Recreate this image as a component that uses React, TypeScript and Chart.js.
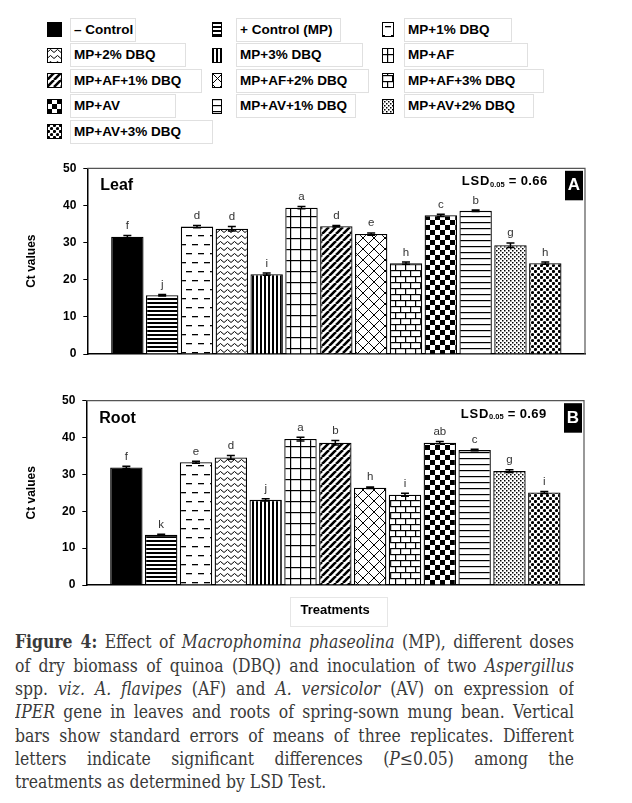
import React, { useEffect, useRef } from 'react';
import { Chart, registerables } from 'chart.js';

Chart.register(...registerables);

const SANS = '"Liberation Sans", Arial, sans-serif';
const SERIF = '"DejaVu Serif", "Liberation Serif", serif';

// ---------------- data ----------------
const treatments = [
  '– Control', '+ Control (MP)', 'MP+1% DBQ', 'MP+2% DBQ', 'MP+3% DBQ', 'MP+AF',
  'MP+AF+1% DBQ', 'MP+AF+2% DBQ', 'MP+AF+3% DBQ', 'MP+AV', 'MP+AV+1% DBQ',
  'MP+AV+2% DBQ', 'MP+AV+3% DBQ',
];
const fillKinds = [
  'solid', 'hthick', 'dash', 'zigzag', 'vthick', 'grid', 'diag', 'lattice',
  'brick', 'checker', 'hthin', 'finedots', 'bigdots',
];
const yMin = 0;
const yMax = 50;
const yStep = 10;

const leafCt = [31.6, 15.85, 34.3, 33.75, 21.5, 39.4, 34.4, 32.3, 24.45, 37.35, 38.55, 29.3, 24.45];
const leafSE = [0.3, 0.2, 0.3, 0.6, 0.3, 0.3, 0.2, 0.3, 0.3, 0.3, 0.2, 0.6, 0.3];
const leafLetters = ['f', 'j', 'd', 'd', 'i', 'a', 'd', 'e', 'h', 'c', 'b', 'g', 'h'];
const leafLSD = '0.66';

const rootCt = [31.9, 13.6, 33.3, 34.6, 23.1, 39.6, 38.6, 26.4, 24.5, 38.6, 36.6, 30.9, 25.1];
const rootSE = [0.3, 0.2, 0.3, 0.5, 0.3, 0.5, 0.6, 0.2, 0.4, 0.3, 0.2, 0.4, 0.3];
const rootLetters = ['f', 'k', 'e', 'd', 'j', 'a', 'b', 'h', 'i', 'ab', 'c', 'g', 'i'];
const rootLSD = '0.69';

// ---------------- patterns ----------------
const tileDims: Record<string, [number, number]> = {
  hthick: [4, 4], dash: [12, 18], zigzag: [7, 6], vthick: [4, 4], grid: [10, 11],
  diag: [7, 7], lattice: [11, 11], brick: [10, 12], checker: [10, 10], hthin: [6, 6],
  finedots: [4, 4], bigdots: [6, 6],
};

function makeFill(g: CanvasRenderingContext2D, kind: string): string | CanvasPattern {
  if (kind === 'solid') return '#000';
  const [w, h] = tileDims[kind];
  const c = document.createElement('canvas');
  c.width = w;
  c.height = h;
  const t = c.getContext('2d')!;
  t.fillStyle = '#fff';
  t.fillRect(0, 0, w, h);
  t.fillStyle = '#000';
  t.strokeStyle = '#000';
  switch (kind) {
    case 'hthick':
      t.fillRect(0, 0, w, 2);
      break;
    case 'dash':
      t.fillRect(0, 4, 6, 1.3);
      t.fillRect(6, 13, 6, 1.3);
      break;
    case 'zigzag':
      t.lineWidth = 1;
      t.beginPath();
      t.moveTo(-3.5, 1.5);
      t.lineTo(0, 4.5);
      t.lineTo(3.5, 1.5);
      t.lineTo(7, 4.5);
      t.lineTo(10.5, 1.5);
      t.stroke();
      break;
    case 'vthick':
      t.fillRect(0, 0, 2, h);
      break;
    case 'grid':
      t.fillRect(0, 0, w, 1.2);
      t.fillRect(0, 0, 1.2, h);
      break;
    case 'diag':
      t.lineWidth = 2.6;
      t.beginPath();
      for (const o of [-7, 0, 7]) {
        t.moveTo(o, 7);
        t.lineTo(o + 7, 0);
      }
      t.stroke();
      break;
    case 'lattice':
      t.lineWidth = 1;
      t.beginPath();
      for (const o of [-11, 0, 11]) {
        t.moveTo(o, 0);
        t.lineTo(o + 11, 11);
        t.moveTo(o, 11);
        t.lineTo(o + 11, 0);
      }
      t.stroke();
      break;
    case 'brick':
      t.fillRect(0, 0, w, 1.2);
      t.fillRect(0, 6, w, 1.2);
      t.fillRect(0, 0, 1.2, 6);
      t.fillRect(5, 6, 1.2, 6);
      break;
    case 'checker':
      t.fillRect(0, 0, 5, 5);
      t.fillRect(5, 5, 5, 5);
      break;
    case 'hthin':
      t.fillRect(0, 0, w, 1.2);
      break;
    case 'finedots':
      t.fillRect(0, 0, 1.5, 1.5);
      t.fillRect(2, 2, 1.5, 1.5);
      break;
    case 'bigdots':
      t.beginPath();
      t.arc(1.5, 1.5, 1.6, 0, Math.PI * 2);
      t.arc(4.5, 4.5, 1.6, 0, Math.PI * 2);
      t.fill();
      break;
  }
  return g.createPattern(c, 'repeat')!;
}

// ---------------- chart panel ----------------
type PanelProps = {
  top: number;
  height: number;
  values: number[];
  errors: number[];
  letters: string[];
  label: string;
  tag: string;
  lsd: string;
  yWidth: number;
  padRight: number;
  padTop: number;
  xHeight: number;
  xTitle?: string;
};

function Panel(p: PanelProps) {
  const ref = useRef<HTMLCanvasElement>(null);
  useEffect(() => {
    const canvas = ref.current!;
    const g = canvas.getContext('2d')!;
    const fills = fillKinds.map((k) => makeFill(g, k));
    const decor = {
      id: 'decor',
      afterDatasetsDraw(chart: any) {
        const { ctx } = chart;
        const xs = chart.scales.x;
        const ys = chart.scales.y;
        ctx.save();
        ctx.strokeStyle = '#000';
        ctx.lineWidth = 1.5;
        ctx.fillStyle = '#333';
        ctx.font = `11.5px ${SANS}`;
        ctx.textAlign = 'center';
        ctx.textBaseline = 'alphabetic';
        p.values.forEach((v, i) => {
          const px = xs.getPixelForValue(i + 1);
          const yt = ys.getPixelForValue(v + p.errors[i]);
          const yb = ys.getPixelForValue(v - p.errors[i]);
          ctx.beginPath();
          ctx.moveTo(px, yt);
          ctx.lineTo(px, yb);
          ctx.moveTo(px - 4, yt);
          ctx.lineTo(px + 4, yt);
          ctx.moveTo(px - 4, yb);
          ctx.lineTo(px + 4, yb);
          ctx.stroke();
          ctx.fillText(p.letters[i], px, yt - 6.5);
        });
        ctx.restore();
      },
      afterDraw(chart: any) {
        const { ctx } = chart;
        const { left, right, top, bottom } = chart.chartArea;
        ctx.save();
        ctx.strokeStyle = '#555';
        ctx.lineWidth = 1.2;
        ctx.beginPath();
        ctx.moveTo(left, top);
        ctx.lineTo(right, top);
        ctx.lineTo(right, bottom);
        ctx.stroke();

        ctx.fillStyle = '#000';
        ctx.font = `bold 16px ${SANS}`;
        ctx.textAlign = 'left';
        ctx.textBaseline = 'middle';
        ctx.fillText(p.label, left + 13, top + 17.5);

        let lx = right - 123.3;
        const ly = top + 13.3;
        ctx.font = `bold 13px ${SANS}`;
        (ctx as any).letterSpacing = '0.8px';
        ctx.fillText('LSD', lx, ly);
        lx += ctx.measureText('LSD').width;
        ctx.font = `bold 7.5px ${SANS}`;
        (ctx as any).letterSpacing = '0px';
        ctx.fillText('0.05', lx, ly + 3);
        lx += ctx.measureText('0.05').width + 4;
        ctx.font = `bold 13px ${SANS}`;
        (ctx as any).letterSpacing = '0.4px';
        ctx.fillText('= ' + p.lsd, lx, ly);
        (ctx as any).letterSpacing = '0px';

        ctx.fillStyle = '#000';
        ctx.fillRect(right - 20, top + 2.5, 18, 29.5);
        ctx.fillStyle = '#fff';
        ctx.font = `bold 17px ${SANS}`;
        ctx.textAlign = 'center';
        ctx.fillText(p.tag, right - 11, top + 17.5);
        ctx.restore();
      },
    };

    const chart = new Chart(canvas, {
      type: 'bar',
      data: {
        datasets: [
          {
            data: p.values.map((v, i) => ({ x: i + 1, y: v })),
            backgroundColor: fills as any,
            borderColor: '#000',
            borderWidth: 1.3,
            barPercentage: 0.93,
            categoryPercentage: 1,
          },
        ],
      },
      options: {
        responsive: false,
        animation: false,
        devicePixelRatio: 1,
        layout: { padding: { top: p.padTop, right: p.padRight, left: 0, bottom: 0 } },
        plugins: { legend: { display: false }, tooltip: { enabled: false } },
        scales: {
          x: {
            type: 'linear',
            min: -0.15,
            max: 14.14,
            offset: false,
            ticks: { display: false },
            grid: { display: false },
            border: { display: true, color: '#000', width: 1.5 },
            title: {
              display: !!p.xTitle,
              text: p.xTitle || '',
              color: '#000',
              font: { family: SANS, size: 13, weight: 'bold' },
              padding: { top: 0, bottom: 11.5 },
            },
            afterFit: (s: any) => {
              s.height = p.xHeight;
            },
          },
          y: {
            min: yMin,
            max: yMax,
            ticks: {
              stepSize: yStep,
              color: '#000',
              padding: 7,
              font: { family: SANS, size: 12, weight: 'bold' },
            },
            grid: { display: true, drawOnChartArea: false, drawTicks: true, tickLength: 4, color: '#000' },
            border: { display: true, color: '#000', width: 1.5 },
            title: {
              display: true,
              text: 'Ct values',
              color: '#000',
              font: { family: SANS, size: 12, weight: 'bold' },
              padding: { top: 24.8, bottom: 0 },
            },
            afterFit: (s: any) => {
              s.width = p.yWidth;
            },
          },
        },
      } as any,
      plugins: [decor],
    });
    return () => chart.destroy();
  }, []);
  return (
    <canvas
      ref={ref}
      width={632}
      height={p.height}
      style={{ position: 'absolute', left: 0, top: p.top, width: 632, height: p.height }}
    />
  );
}

// ---------------- legend ----------------
const swatchShift: Record<string, [number, number]> = {
  grid: [5, 6],
  dash: [3, 0],
  brick: [0, 2],
};

function Swatch({ kind, left, top, w, h }: { kind: string; left: number; top: number; w: number; h: number }) {
  const ref = useRef<HTMLCanvasElement>(null);
  useEffect(() => {
    const c = ref.current!;
    const g = c.getContext('2d')!;
    g.clearRect(0, 0, w, h);
    const [dx, dy] = swatchShift[kind] || [0, 0];
    g.save();
    g.translate(dx, dy);
    g.fillStyle = makeFill(g, kind) as any;
    g.fillRect(-dx, -dy, w, h);
    g.restore();
    g.strokeStyle = '#000';
    g.lineWidth = 1;
    g.strokeRect(0.5, 0.5, w - 1, h - 1);
  }, []);
  return <canvas ref={ref} width={w} height={h} style={{ position: 'absolute', left, top, width: w, height: h }} />;
}

const legendSwatchX = [47, 212, 382];
const legendSwatchW = [15, 10, 12];
const legendTextX = [73, 239, 407];
const legendBoxW = [
  [66, 105, 108],
  [116, 127, 124],
  [132, 133, 140],
  [106, 120, 130],
  [143],
];

function Legend() {
  return (
    <>
      {treatments.map((t, i) => {
        const col = i % 3;
        const row = Math.floor(i / 3);
        const cy = 29.5 + row * 25.6;
        return (
          <React.Fragment key={t}>
            <Swatch kind={fillKinds[i]} left={legendSwatchX[col]} top={cy - 7.5} w={legendSwatchW[col]} h={15} />
            <div
              style={{
                position: 'absolute',
                left: legendTextX[col] - 3,
                top: cy - 12,
                width: legendBoxW[row][col],
                height: 24,
                boxSizing: 'border-box',
                border: '1px solid #e0e0e0',
                paddingLeft: 3,
                lineHeight: '22px',
                fontFamily: SANS,
                fontWeight: 'bold',
                fontSize: 13.5,
                color: '#000',
                whiteSpace: 'nowrap',
              }}
            >
              {t}
            </div>
          </React.Fragment>
        );
      })}
    </>
  );
}

// ---------------- caption ----------------
const captionLines: React.ReactNode[] = [
  <><b>Figure 4:</b> Effect of <i>Macrophomina phaseolina</i> (MP), different doses</>,
  <>of dry biomass of quinoa (DBQ) and inoculation of two <i>Aspergillus</i></>,
  <>spp. <i>viz. A. flavipes</i> (AF) and <i>A. versicolor</i> (AV) on expression of</>,
  <><i>IPER</i> gene in leaves and roots of spring-sown mung bean. Vertical</>,
  <>bars show standard errors of means of three replicates. Different</>,
  <>letters indicate significant differences (<i>P</i>≤0.05) among the</>,
  <>treatments as determined by LSD Test.</>,
];

const captionScale = 0.88;

function Caption() {
  return (
    <div
      style={{
        position: 'absolute',
        left: 15,
        top: 630.4,
        width: 559 / captionScale,
        transform: `scaleX(${captionScale})`,
        transformOrigin: '0 0',
      }}
    >
      {captionLines.map((line, i) => (
        <div
          key={i}
          style={{
            height: 23.3,
            lineHeight: '23.3px',
            overflow: 'hidden',
            fontFamily: SERIF,
            fontSize: 17.8,
            color: '#3a3a3a',
            textAlign: 'justify',
            textAlignLast: i < captionLines.length - 1 ? 'justify' : 'left',
          } as any}
        >
          {line}
        </div>
      ))}
    </div>
  );
}

export default function App() {
  return (
    <div
      style={{
        position: 'absolute',
        left: 0,
        top: 0,
        width: 632,
        height: 803,
        background: '#fff',
        overflow: 'hidden',
      }}
    >
      <Legend />
      <div
        style={{
          position: 'absolute',
          left: 290,
          top: 597,
          width: 98,
          height: 30,
          boxSizing: 'border-box',
          border: '1px solid #e6e6e6',
        }}
      />
      <Panel
        top={150}
        height={225}
        values={leafCt}
        errors={leafSE}
        letters={leafLetters}
        label="Leaf"
        tag="A"
        lsd={leafLSD}
        yWidth={87.3}
        padRight={47}
        padTop={18.3}
        xHeight={21}
      />
      <Panel
        top={380}
        height={250}
        values={rootCt}
        errors={rootSE}
        letters={rootLetters}
        label="Root"
        tag="B"
        lsd={rootLSD}
        yWidth={86.3}
        padRight={48}
        padTop={20.7}
        xHeight={45}
        xTitle="Treatments"
      />
      <Caption />
    </div>
  );
}
